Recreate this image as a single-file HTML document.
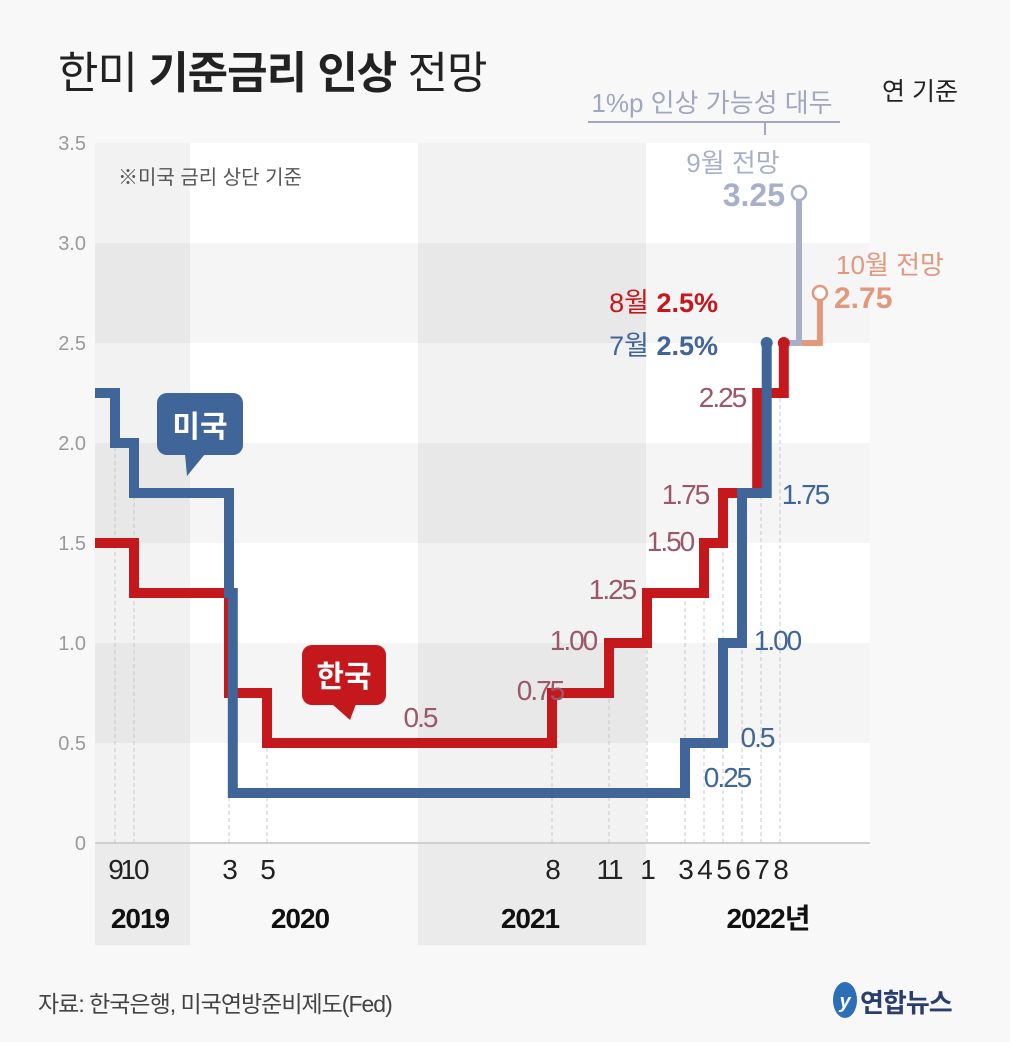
<!DOCTYPE html>
<html><head><meta charset="utf-8">
<style>
body{margin:0;width:1010px;height:1042px;background:#f8f8f8;overflow:hidden;font-family:"Liberation Sans","Noto Sans CJK KR",sans-serif}
svg{position:absolute;left:0;top:0}
</style></head>
<body>
<svg id="c" width="1010" height="1042" viewBox="0 0 1010 1042" font-family="Liberation Sans, Noto Sans CJK KR, sans-serif">
<g id="bg"></g>
<g id="grid"></g>
<g id="lines"></g>
<g id="labels"></g>
</svg>
<script>
// month index: 0 = Sep 2019
const yTicks=[0,0.5,1.0,1.5,2.0,2.5,3.0,3.5];
const monthTicks=[0,1,6,8,23,26,28,30,31,32,33,34,35];
const monthTickLabels=["9","10","3","5","8","11","1","3","4","5","6","7","8"];
const usMonths=[-1,0,1,6,6.2,30,32,33,34.3];
const usRates=[2.25,2.0,1.75,1.25,0.25,0.5,1.0,1.75,2.5];
const krMonths=[-1,1,6,8,23,26,28,31,32,33.8,35.2];
const krRates=[1.5,1.25,0.75,0.5,0.75,1.0,1.25,1.5,1.75,2.25,2.5];
const sepFcMonths=[35.2,36,36];const sepFcRates=[2.5,2.5,3.25];
const octFcMonths=[36,37.1,37.1];const octFcRates=[2.5,2.5,2.75];

const X0=115,MX=19,Y0=843,YS=200;
const xs=m=>X0+MX*m, ys=v=>Y0-YS*v;
const NS="http://www.w3.org/2000/svg";
function mk(tag,attrs,parent,text){const e=document.createElementNS(NS,tag);for(const k in attrs)e.setAttribute(k,attrs[k]);if(text!==undefined)e.textContent=text;document.getElementById(parent).appendChild(e);return e;}

// background stripes
for(let i=0;i<7;i++){
  const r=mk('rect',{x:95,y:ys(3.5-i*0.5),width:775,height:100,fill:(i%2===1)?'#f5f5f5':'#ffffff'},'bg');
  
  
}
let b1=mk('rect',{x:95,y:143,width:95,height:802,fill:'#000',opacity:0.05},'bg');


let b2=mk('rect',{x:418,y:143,width:228,height:802,fill:'#000',opacity:0.05},'bg');



// y ticks
yTicks.forEach(v=>{
  const t=mk('text',{x:86,y:ys(v)+7,'text-anchor':'end','font-size':20,fill:'#9a9a9a'},'grid',v===0?'0':v.toFixed(1));
  
  
});
let ax=mk('line',{x1:95,y1:843,x2:870,y2:843,stroke:'#cfcfcf','stroke-width':2},'grid');



function rateAt(ms,rs,m){let r=rs[0];for(let i=0;i<ms.length;i++){if(ms[i]<=m+0.001)r=rs[i];}return r;}
monthTicks.forEach((m,i)=>{
  const top=Math.min(ys(rateAt(usMonths,usRates,m)),ys(rateAt(krMonths,krRates,m)));
  const l=mk('line',{x1:xs(m),y1:843,x2:xs(m),y2:top,stroke:'#c8c8c8','stroke-width':1,'stroke-dasharray':'4 3'},'grid');
  
  
  const t=mk('text',{x:xs(m),y:879,'text-anchor':'middle','font-size':28,fill:'#222',style:'letter-spacing:-2px'},'labels',monthTickLabels[i]);
  
  
});
[["2019",140],["2020",300],["2021",530],["2022년",768]].forEach(([s,x])=>{
  const t=mk('text',{x:x,y:928,'text-anchor':'middle','font-size':28,'font-weight':'bold',fill:'#111',style:'letter-spacing:-1px'},'labels',s);
  
  
});

function stepPath(ms,rs,startX){
  let d=`M${startX!==undefined?startX:xs(ms[0])} ${ys(rs[0])}`;
  for(let i=1;i<ms.length;i++){d+=` H${xs(ms[i])} V${ys(rs[i])}`;}
  return d;
}
let sf=mk('path',{d:stepPath(octFcMonths,octFcRates),fill:'none',stroke:'#e2987c','stroke-width':6},'lines');


let gf=mk('path',{d:stepPath(sepFcMonths,sepFcRates),fill:'none',stroke:'#a7afc9','stroke-width':6},'lines');


let kr=mk('path',{d:stepPath(krMonths,krRates,95),fill:'none',stroke:'#c4181c','stroke-width':10},'lines');


let us=mk('path',{d:stepPath(usMonths,usRates,95),fill:'none',stroke:'#3f6599','stroke-width':10},'lines');


let d1=mk('circle',{cx:xs(usMonths[usMonths.length-1]),cy:ys(usRates[usRates.length-1]),r:6,fill:'#3f6599'},'lines');


let d2=mk('circle',{cx:xs(krMonths[krMonths.length-1]),cy:ys(krRates[krRates.length-1]),r:6,fill:'#c4181c'},'lines');


let c1=mk('circle',{cx:xs(sepFcMonths[2]),cy:ys(sepFcRates[2]),r:7,fill:'#fff',stroke:'#a7afc9','stroke-width':2.5},'lines');


let c2=mk('circle',{cx:xs(octFcMonths[2]),cy:ys(octFcRates[2]),r:7,fill:'#fff',stroke:'#e2987c','stroke-width':2.5},'lines');



const vl=[["2.25",722,407,'#9a5868'],["1.75",685,504,'#9a5868'],["1.50",670,551,'#9a5868'],["1.25",612,599,'#9a5868'],["1.00",573,650,'#9a5868'],["0.75",540,700,'#9a5868'],["0.5",420,727,'#9a5868'],
["1.75",805,504,'#3f6599'],["1.00",777,650,'#3f6599'],["0.5",757,747,'#3f6599'],["0.25",727,787,'#3f6599']];
vl.forEach(([s,x,y,c])=>{
  const t=mk('text',{x:x,y:y,'text-anchor':'middle','font-size':28,fill:c,style:'letter-spacing:-2px'},'labels',s);
  
  
});
</script>
<svg width="1010" height="1042" style="pointer-events:none" font-family="Liberation Sans, Noto Sans CJK KR, sans-serif">
<text x="58" y="88" font-size="44" fill="#222" style="letter-spacing:-1px">한미 <tspan font-weight="bold">기준금리 인상</tspan> 전망</text>
<text x="958" y="100" text-anchor="end" font-size="25" fill="#222">연 기준</text>
<text x="712" y="112" text-anchor="middle" font-size="26" fill="#a0a7be">1%p 인상 가능성 대두</text>
<path d="M588 122 H840 M765 122 L765 135" stroke="#a0a7be" stroke-width="2" fill="none"/>
<text x="733" y="172" text-anchor="middle" font-size="26" fill="#a7afc9">9월 전망</text>
<text x="785" y="206" text-anchor="end" font-size="32" font-weight="bold" fill="#a7afc9">3.25</text>
<text x="890" y="274" text-anchor="middle" font-size="26" fill="#e2987c">10월 전망</text>
<text x="834" y="308" font-size="30" font-weight="bold" fill="#e2987c">2.75</text>
<text x="718" y="312" text-anchor="end" font-size="27" fill="#c4181c">8월 <tspan font-weight="bold">2.5%</tspan></text>
<text x="718" y="355" text-anchor="end" font-size="27" fill="#3f6599">7월 <tspan font-weight="bold">2.5%</tspan></text>
<text x="118" y="184" font-size="20" fill="#555">※미국 금리 상단 기준</text>
<g>
<rect x="157" y="393" width="86" height="62" rx="10" fill="#3f6599"/>
<path d="M185 454 L187 476 L205 454 Z" fill="#3f6599"/>
<text x="200" y="437" text-anchor="middle" font-size="30" font-weight="bold" fill="#fff">미국</text>
</g>
<g>
<rect x="302" y="645" width="84" height="60" rx="10" fill="#c4181c"/>
<path d="M332 704 L350 720 L356 704 Z" fill="#c4181c"/>
<text x="344" y="687" text-anchor="middle" font-size="30" font-weight="bold" fill="#fff">한국</text>
</g>
<text x="38" y="1012" font-size="23" fill="#444" style="letter-spacing:-1px">자료: 한국은행, 미국연방준비제도(Fed)</text>
<g>
<ellipse cx="845" cy="1000" rx="12" ry="18" fill="#2d6fb7"/>
<text x="845" y="1008" text-anchor="middle" font-size="20" font-style="italic" font-weight="bold" fill="#fff">y</text>
<text x="860" y="1012" font-size="26" font-weight="bold" fill="#2a3e6e" style="letter-spacing:-1px">연합뉴스</text>
</g>
</svg>
</body></html>
